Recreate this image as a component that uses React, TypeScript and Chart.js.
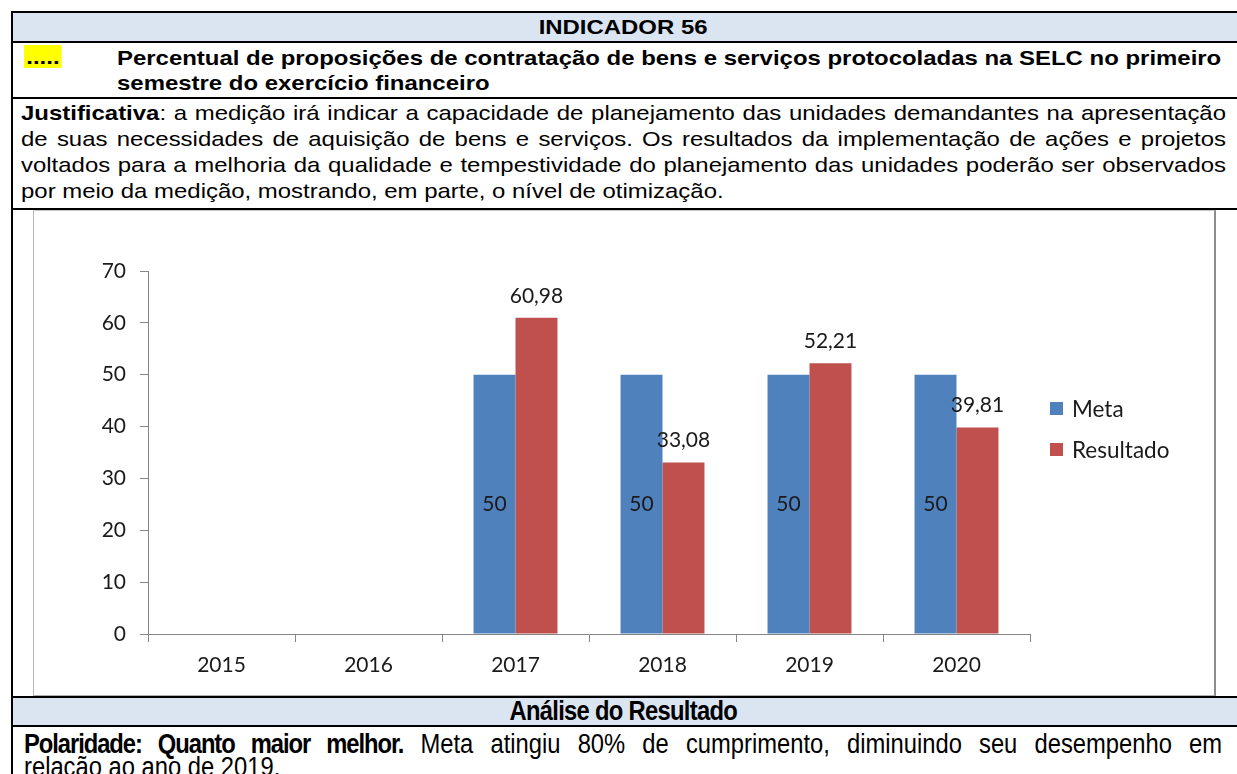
import React, { useEffect, useRef } from 'react';
import { Chart, registerables } from 'chart.js';

Chart.register(...registerables);

// ---- data ----
const categories = ['2015', '2016', '2017', '2018', '2019', '2020'];
const metaValues: (number | null)[] = [null, null, 50, 50, 50, 50];
const resultadoValues: (number | null)[] = [null, null, 60.98, 33.08, 52.21, 39.81];
const seriesNames = ['Meta', 'Resultado'];
const seriesColors = ['#4f81bd', '#c0504d'];
const yMin = 0;
const yMax = 70;
const yStep = 10;

const CHART_FONT = "Lato, 'Noto Sans', sans-serif";
const TEXT_FONT = "'Liberation Sans', Arial, sans-serif";
const fmt = (v: number) => String(v).replace('.', ',');

const valueLabels = {
  id: 'valueLabels',
  afterDatasetsDraw(chart: any) {
    const ctx = chart.ctx;
    ctx.save();
    ctx.font = `21px ${CHART_FONT}`;
    ctx.fillStyle = '#1a1a1a';
    ctx.textAlign = 'center';
    ctx.textBaseline = 'middle';
    chart.data.datasets.forEach((ds: any, di: number) => {
      const meta = chart.getDatasetMeta(di);
      meta.data.forEach((el: any, i: number) => {
        const v = ds.data[i];
        if (v == null) return;
        const y = di === 0 ? (el.y + el.base) / 2 : el.y - 22;
        ctx.fillText(fmt(v), el.x, y);
      });
    });
    ctx.restore();
  },
};

const sideLegend = {
  id: 'sideLegend',
  afterDraw(chart: any) {
    const ctx = chart.ctx;
    const area = chart.chartArea;
    const x0 = area.right + 20;
    const mid = (area.top + area.bottom) / 2;
    ctx.save();
    ctx.font = `22.5px ${CHART_FONT}`;
    ctx.textBaseline = 'middle';
    ctx.textAlign = 'left';
    chart.data.datasets.forEach((ds: any, i: number) => {
      const yc = mid - 44 + i * 41;
      ctx.fillStyle = ds.backgroundColor;
      ctx.fillRect(x0, yc - 6.5, 13, 13);
      ctx.fillStyle = '#1a1a1a';
      ctx.fillText(ds.label, x0 + 22, yc + 1);
    });
    ctx.restore();
  },
};

function BarChart() {
  const ref = useRef<HTMLCanvasElement | null>(null);
  useEffect(() => {
    if (!ref.current) return;
    const axisColor = '#868686';
    const chart = new Chart(ref.current, {
      type: 'bar',
      data: {
        labels: categories,
        datasets: [
          { label: seriesNames[0], data: metaValues, backgroundColor: seriesColors[0], borderWidth: 0 },
          { label: seriesNames[1], data: resultadoValues, backgroundColor: seriesColors[1], borderWidth: 0 },
        ],
      },
      options: {
        responsive: false,
        animation: false,
        devicePixelRatio: 1,
        layout: { padding: { top: 60, right: 184, bottom: 0, left: 0 } },
        datasets: { bar: { categoryPercentage: 0.571, barPercentage: 1 } },
        plugins: { legend: { display: false }, tooltip: { enabled: false } },
        scales: {
          x: {
            grid: { display: true, offset: true, drawOnChartArea: false, drawTicks: true, tickLength: 8, color: axisColor },
            border: { display: true, color: axisColor, width: 1 },
            ticks: { color: '#1a1a1a', font: { family: CHART_FONT, size: 21 }, padding: 11, maxRotation: 0 },
            afterFit(scale: any) { scale.height = 61; },
          },
          y: {
            min: yMin,
            max: yMax,
            ticks: { stepSize: yStep, color: '#1a1a1a', font: { family: CHART_FONT, size: 21 }, padding: 14 },
            grid: { display: true, drawOnChartArea: false, drawTicks: true, tickLength: 8, color: axisColor },
            border: { display: true, color: axisColor, width: 1 },
            afterFit(scale: any) { scale.width = 114; },
          },
        },
      },
      plugins: [valueLabels, sideLegend],
    } as any);
    return () => chart.destroy();
  }, []);
  return <canvas ref={ref} width={1180} height={484} style={{ display: 'block' }} />;
}

const hLine = (top: number) => (
  <div style={{ position: 'absolute', left: 11, top, width: 1240, height: 2, background: '#000' }} />
);

const WIDE = 1.14;
const NARROW = 0.88;
const justLine: React.CSSProperties = { textAlign: 'justify', textAlignLast: 'justify' as any, whiteSpace: 'nowrap', height: 26 };

export default function App() {
  return (
    <div style={{ position: 'fixed', left: 0, top: 0, width: 1237, height: 774, overflow: 'hidden', background: '#fff', fontFamily: TEXT_FONT, color: '#000' }}>
      {/* header row */}
      <div style={{ position: 'absolute', left: 11, top: 12, width: 1240, height: 29, background: '#dbe5f1' }} />
      <div style={{ position: 'absolute', left: 11, top: 14, width: 1224, textAlign: 'center', fontWeight: 'bold', fontSize: 21, lineHeight: '26px' }}>
        <span style={{ display: 'inline-block', transform: `scaleX(${WIDE})` }}>INDICADOR 56</span>
      </div>
      {/* title row */}
      <div style={{ position: 'absolute', left: 24, top: 45, fontWeight: 'bold', fontSize: 21, lineHeight: '23px', background: '#ffff00', padding: '0 2px', transform: `scaleX(${WIDE})`, transformOrigin: '0 0' }}>.....</div>
      <div style={{ position: 'absolute', left: 117, top: 45, fontWeight: 'bold', fontSize: 21, lineHeight: '25px', whiteSpace: 'nowrap', transform: `scaleX(${WIDE})`, transformOrigin: '0 0' }}>
        <div>Percentual de proposições de contratação de bens e serviços protocoladas na SELC no primeiro</div>
        <div>semestre do exercício financeiro</div>
      </div>
      {/* justification row */}
      <div style={{ position: 'absolute', left: 21, top: 100, width: 1205 / WIDE, fontSize: 21, lineHeight: '26px', transform: `scaleX(${WIDE})`, transformOrigin: '0 0' }}>
        <div style={justLine}><b>Justificativa</b>: a medição irá indicar a capacidade de planejamento das unidades demandantes na apresentação</div>
        <div style={justLine}>de suas necessidades de aquisição de bens e serviços. Os resultados da implementação de ações e projetos</div>
        <div style={justLine}>voltados para a melhoria da qualidade e tempestividade do planejamento das unidades poderão ser observados</div>
        <div style={{ height: 26, whiteSpace: 'nowrap' }}>por meio da medição, mostrando, em parte, o nível de otimização.</div>
      </div>
      {/* chart */}
      <div style={{ position: 'absolute', left: 33, top: 210, width: 1180, height: 484, borderTop: '1px solid #c8c8c8', borderLeft: '1px solid #b8b8b8', borderRight: '2px solid #8c8c8c', borderBottom: '2px solid #b0b0b0' }}>
        <BarChart />
      </div>
      {/* analysis header */}
      <div style={{ position: 'absolute', left: 11, top: 697, width: 1240, height: 29, background: '#dbe5f1' }} />
      <div style={{ position: 'absolute', left: 11, top: 697, width: 1224, textAlign: 'center', fontWeight: 'bold', fontSize: 27, lineHeight: '29px' }}>
        <span style={{ display: 'inline-block', transform: `scaleX(${NARROW})`, letterSpacing: '-0.8px' }}>Análise do Resultado</span>
      </div>
      {/* analysis text */}
      <div style={{ position: 'absolute', left: 24, top: 733, width: 1198 / NARROW, fontSize: 27, lineHeight: '23px', transform: `scaleX(${NARROW})`, transformOrigin: '0 0' }}>
        <div style={{ textAlign: 'justify', textAlignLast: 'justify' as any, whiteSpace: 'nowrap', height: 23 }}><b style={{ letterSpacing: '-1.2px' }}>Polaridade: Quanto maior melhor.</b> Meta atingiu 80% de cumprimento, diminuindo seu desempenho em</div>
        <div style={{ height: 23, whiteSpace: 'nowrap' }}>relação ao ano de 2019.</div>
      </div>
      {/* borders */}
      {hLine(11)}
      {hLine(41)}
      {hLine(97)}
      {hLine(208)}
      {hLine(696)}
      {hLine(725)}
      <div style={{ position: 'absolute', left: 11, top: 11, width: 2, height: 770, background: '#000' }} />
    </div>
  );
}
